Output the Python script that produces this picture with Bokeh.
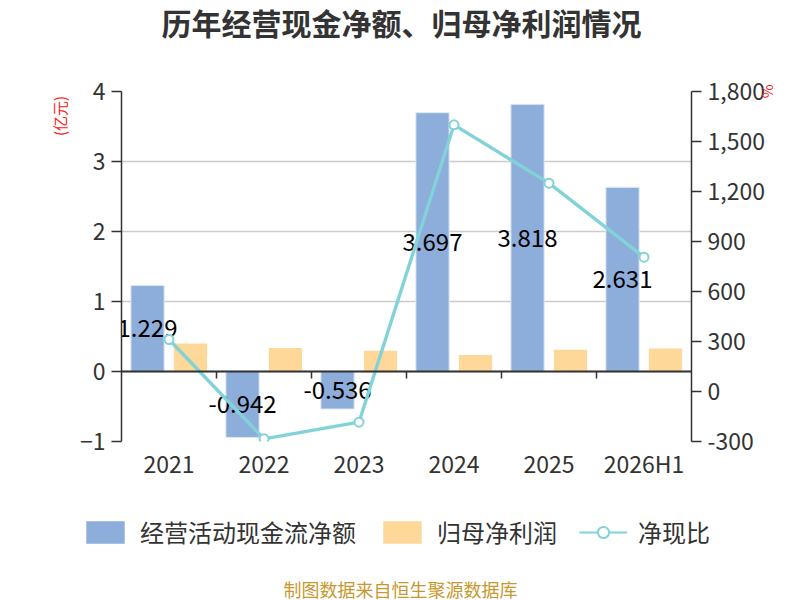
import math
from bokeh.plotting import figure
from bokeh.layouts import column, row
from bokeh.models import (ColumnDataSource, FactorRange, Range1d, LinearAxis, FixedTicker,
                          NumeralTickFormatter, Legend, LegendItem, Label, Span)
from bokeh.transform import dodge
from bokeh.core.properties import value
from bokeh.embed import file_html
from bokeh.resources import INLINE

# ---- data ----
categories = ["2021", "2022", "2023", "2024", "2025", "2026H1"]
ocf = [1.229, -0.942, -0.536, 3.697, 3.818, 2.631]          # 经营活动现金流净额 (亿元)
net_profit = [0.40, 0.335, 0.295, 0.235, 0.31, 0.33]         # 归母净利润 (亿元)
ratio = [312, -284, -184, 1600, 1250, 806]                   # 净现比 (%)
left_ticks = [-1, 0, 1, 2, 3, 4]
right_ticks = [-300, 0, 300, 600, 900, 1200, 1500, 1800]

title_text = "历年经营现金净额、归母净利润情况"
footer_text = "制图数据来自恒生聚源数据库"
series_names = ["经营活动现金流净额", "归母净利润", "净现比"]
left_unit = "(亿元)"
right_unit = "%"

FONT = "Noto Sans CJK SC"
BLUE = "#8dadda"
YELLOW = "#fed898"
TEAL = "#82d3d8"
DARK = "#333333"
RED = "#ff2020"

W = 800
TOP_H, MAIN_H, BOT_H = 50, 450, 100
STRIP_W = 75
FL, FR = 121, 691   # main frame left/right edge (px, page coords)


def no_align(f):
    try:
        f.frame_align = False
        return True
    except Exception:
        return False


def blank_fig(w, h):
    f = figure(width=w, height=h, x_range=Range1d(0, w), y_range=Range1d(0, h),
               output_backend="svg", toolbar_location=None,
               x_axis_type=None, y_axis_type=None,
               min_border=0, min_border_left=0, min_border_right=0,
               min_border_top=0, min_border_bottom=0)
    no_align(f)
    f.outline_line_color = None
    f.xgrid.visible = False
    f.ygrid.visible = False
    f.background_fill_color = "white"
    f.border_fill_color = "white"
    return f


top = blank_fig(W, TOP_H)
bot = blank_fig(W, BOT_H)
strip = blank_fig(STRIP_W, MAIN_H)

# ---- title strip ----
top.add_layout(Label(x=401, y=TOP_H - 21.5, x_units="screen", y_units="screen",
                     text=title_text, text_font=FONT, text_font_size="30px",
                     text_font_style="bold", text_color=DARK,
                     text_align="center", text_baseline="middle"))

# ---- left unit strip ----
strip.add_layout(Label(x=59, y=MAIN_H - (115.5 - TOP_H), x_units="screen", y_units="screen",
                       text=left_unit, angle=math.pi / 2, text_font=FONT,
                       text_font_size="15px", text_color=RED,
                       text_align="center", text_baseline="middle"))

# ---- main chart ----
src = ColumnDataSource(dict(
    cat=categories,
    ocf=ocf,
    np_=net_profit,
    ratio=ratio,
    mid=[v / 2 for v in ocf],
    lbl=[f"{v:.3f}" for v in ocf],
))

p = figure(width=W - STRIP_W, height=MAIN_H,
           x_range=FactorRange(factors=categories, range_padding=0),
           y_range=Range1d(-1, 4),
           output_backend="svg", toolbar_location=None,
           min_border_left=FL - STRIP_W, min_border_right=W - FR,
           min_border_top=91 - TOP_H, min_border_bottom=TOP_H + MAIN_H - 441)
no_align(p)
p.outline_line_color = None
p.background_fill_color = "white"
p.border_fill_color = "white"
p.extra_y_ranges = {"pct": Range1d(-300, 1800)}

p.xgrid.grid_line_color = None
p.ygrid.ticker = FixedTicker(ticks=left_ticks)
p.ygrid.grid_line_color = "#cccccc"
p.ygrid.grid_line_width = 1.5

xa = p.xaxis[0]
xa.axis_line_color = None
xa.major_tick_line_color = None
xa.major_tick_out = 0
xa.major_tick_in = 0
xa.minor_tick_line_color = None
xa.major_label_text_font = FONT
xa.major_label_text_font_size = "23px"
xa.major_label_text_color = DARK
xa.major_label_standoff = 4

ya = p.yaxis[0]
ya.ticker = FixedTicker(ticks=left_ticks)
ya.axis_line_color = DARK
ya.axis_line_width = 1.5
ya.major_tick_line_color = DARK
ya.major_tick_line_width = 1.5
ya.major_tick_out = 10
ya.major_tick_in = 0
ya.minor_tick_line_color = None
ya.major_label_text_font = FONT
ya.major_label_text_font_size = "23px"
ya.major_label_text_color = DARK
ya.major_label_standoff = 6

ra = LinearAxis(y_range_name="pct", ticker=FixedTicker(ticks=right_ticks),
                formatter=NumeralTickFormatter(format="0,0"))
ra.axis_line_color = DARK
ra.axis_line_width = 1.5
ra.major_tick_line_color = DARK
ra.major_tick_line_width = 1.5
ra.major_tick_out = 10
ra.major_tick_in = 0
ra.minor_tick_line_color = None
ra.major_label_text_font = FONT
ra.major_label_text_font_size = "23px"
ra.major_label_text_color = DARK
ra.major_label_standoff = 6
ra.axis_label = right_unit
ra.axis_label_text_font = FONT
ra.axis_label_text_font_size = "15px"
ra.axis_label_text_font_style = "normal"
ra.axis_label_text_color = RED
ra.axis_label_standoff = -10
try:
    ra.axis_label_align = "end"
except Exception:
    pass
p.add_layout(ra, "right")

b1 = p.vbar(x=dodge("cat", -0.226, range=p.x_range), top="ocf", bottom=0, width=0.35,
            source=src, fill_color=BLUE, line_color="#dfe8f5", line_width=1)
b2 = p.vbar(x=dodge("cat", 0.226, range=p.x_range), top="np_", bottom=0, width=0.35,
            source=src, fill_color=YELLOW, line_color=None)

p.add_layout(Span(location=0, dimension="width", line_color=DARK, line_width=1.8))
bsrc = ColumnDataSource(dict(cat=categories[1:], y0=[0] * 5, y1=[-0.1] * 5))
p.segment(x0=dodge("cat", -0.5, range=p.x_range), y0="y0",
          x1=dodge("cat", -0.5, range=p.x_range), y1="y1",
          source=bsrc, line_color=DARK, line_width=1.5)

p.text(x=dodge("cat", -0.226, range=p.x_range), y="mid", text="lbl", source=src,
       text_font=value(FONT), text_font_size="24px", text_color="#000000",
       text_align="center", text_baseline="middle")

p.line(x="cat", y="ratio", source=src, y_range_name="pct",
       line_color=TEAL, line_width=3.4)
p.scatter(x="cat", y="ratio", source=src, y_range_name="pct", size=9,
          fill_color="white", line_color=TEAL, line_width=2)

# ---- legend + footer strip ----
nan = float("nan")
proxy = ColumnDataSource(dict(x=[nan], y=[nan], top=[nan]))
lb1 = bot.vbar(x="x", top="top", width=1, source=proxy, fill_color=BLUE, line_color=None)
lb2 = bot.vbar(x="x", top="top", width=1, source=proxy, fill_color=YELLOW, line_color=None)
ll = bot.line(x="x", y="y", source=proxy, line_color=TEAL, line_width=2)
lp = bot.scatter(x="x", y="y", source=proxy, size=20, fill_color="white",
                 line_color=TEAL, line_width=2)
legend = Legend(items=[
    LegendItem(label=series_names[0], renderers=[lb1]),
    LegendItem(label=series_names[1], renderers=[lb2]),
    LegendItem(label=series_names[2], renderers=[ll, lp]),
], orientation="horizontal", location=(81, TOP_H + MAIN_H + BOT_H - 549),
    glyph_width=48, glyph_height=28, label_standoff=11, spacing=22,
    padding=0, margin=0, border_line_color=None, background_fill_alpha=0,
    label_text_font=FONT, label_text_font_size="24px", label_text_color=DARK)
bot.add_layout(legend, "center")
bot.add_layout(Label(x=400, y=TOP_H + MAIN_H + BOT_H - 588, x_units="screen", y_units="screen",
                     text=footer_text, text_font=FONT, text_font_size="18px",
                     text_color="#c8982e", text_align="center", text_baseline="middle"))

layout = column(top, row(strip, p, spacing=0), bot, spacing=0)
open("out.html", "w").write(file_html(layout, INLINE))
